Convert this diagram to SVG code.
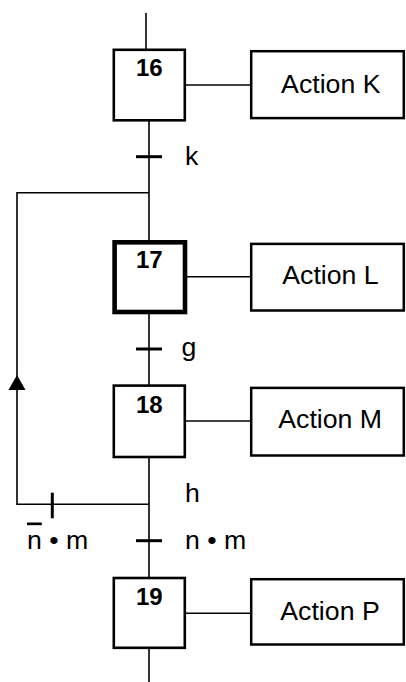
<svg xmlns="http://www.w3.org/2000/svg" width="406" height="682" viewBox="0 0 406 682">
<style>
.step{fill:#fff;stroke:#000;stroke-width:2.6}
.act{fill:#fff;stroke:#000;stroke-width:2.5}
.num{font-family:"Liberation Sans",Arial,sans-serif;font-weight:bold;font-size:24px;text-anchor:middle;fill:#000}
.lbl{font-family:"Liberation Sans",Arial,sans-serif;font-size:26.7px;fill:#000}
.atx{font-family:"Liberation Sans",Arial,sans-serif;font-size:26.7px;text-anchor:middle;fill:#000}
.ln{stroke:#000;stroke-width:1.6;fill:none}
.tk{stroke:#000;stroke-width:3;fill:none}
</style>
<rect width="406" height="682" fill="#fff"/>
<g id="connectors">
<line class="ln" x1="146" y1="13" x2="146" y2="50"/>
<line class="ln" x1="149" y1="120" x2="149" y2="682"/>
<line class="ln" x1="186" y1="85" x2="251" y2="85"/>
<line class="ln" x1="186" y1="276.7" x2="251" y2="276.7"/>
<line class="ln" x1="186" y1="421" x2="251" y2="421"/>
<line class="ln" x1="186" y1="613.3" x2="251" y2="613.3"/>
<polyline class="ln" points="149,504.3 17,504.3 17,192.7 149,192.7"/>
<polygon points="17,375 8.5,390 25.5,390" fill="#000"/>
<line class="tk" x1="136" y1="156.7" x2="162" y2="156.7"/>
<line class="tk" x1="136" y1="349" x2="162" y2="349"/>
<line class="tk" x1="136" y1="540.7" x2="162" y2="540.7"/>
<line class="tk" x1="52.3" y1="492.7" x2="52.3" y2="518.3"/>
<text class="lbl" x="185" y="165">k</text>
<text class="lbl" x="181.5" y="356">g</text>
<text class="lbl" x="185" y="501.7">h</text>
<text class="lbl" x="185" y="548.5">n • m</text>
<text class="lbl" x="27" y="548.5"><tspan text-decoration="overline">n</tspan> • m</text>
</g>
<g id="step16">
<rect class="step" x="113.8" y="49.8" width="71" height="70.5"/>
<text class="num" x="149.3" y="76">16</text>
</g>
<g id="step17">
<rect class="step" x="114.6" y="242.3" width="70.4" height="69.7" style="stroke-width:4.6"/>
<text class="num" x="149.3" y="268">17</text>
</g>
<g id="step18">
<rect class="step" x="113.8" y="385.6" width="71" height="71.4"/>
<text class="num" x="149.3" y="413">18</text>
</g>
<g id="step19">
<rect class="step" x="113.8" y="578" width="71" height="69.8"/>
<text class="num" x="149.3" y="605.3">19</text>
</g>
<g id="actionK">
<rect class="act" x="251.2" y="51.2" width="152.6" height="66.9"/>
<text class="atx" x="330.8" y="92.7">Action K</text>
</g>
<g id="actionL">
<rect class="act" x="251.2" y="243.9" width="152.6" height="66.6"/>
<text class="atx" x="330.5" y="284.3">Action L</text>
</g>
<g id="actionM">
<rect class="act" x="251.2" y="387.9" width="152.6" height="67.6"/>
<text class="atx" x="330.2" y="428.3">Action M</text>
</g>
<g id="actionP">
<rect class="act" x="251.2" y="579.2" width="152.6" height="65.3"/>
<text class="atx" x="330" y="620">Action P</text>
</g>
</svg>
